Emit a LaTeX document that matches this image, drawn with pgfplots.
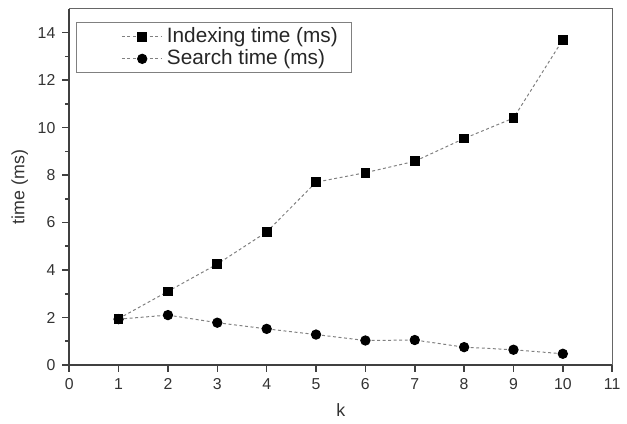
\documentclass[border=0pt]{standalone}
\usepackage{pgfplots}
\pgfplotsset{compat=1.18}
\usepackage{fontspec}
\setmainfont{Liberation Sans}
\begin{document}
\begin{tikzpicture}
\begin{axis}[
  scale only axis,
  width=274.5pt, height=180pt,
  xmin=0, xmax=11, ymin=0, ymax=15,
  xtick={0,1,...,11},
  ytick={0,2,...,14},
  minor y tick num=1,
  /pgf/number format/assume math mode=true,
  tick label style={font=\fontsize{8}{9}\selectfont, text=black!80},
  label style={font=\fontsize{9}{11}\selectfont, text=black!80},
  xlabel={k},
  ylabel={time (ms)},
  xlabel style={yshift=0pt},
  ylabel style={yshift=-2pt},
  axis x line*=bottom, axis y line*=left,
  axis line style={line width=1pt, black!75},
  tick align=outside,
  major tick length=3.5pt,
  minor tick length=2pt,
  tick style={line width=0.8pt, black!75},
  legend style={at={(rel axis cs:0.0128,0.962)}, anchor=north west,
    draw=black!50, line width=0.5pt,
    font=\fontsize{10.5}{11}\selectfont, text=black!85,
    inner xsep=5pt, inner ysep=0.5pt, row sep=-2pt,
    /tikz/every even column/.append style={column sep=0pt},
    cells={anchor=west}},
  legend image code/.code={%
    \path (-0.62cm,0cm) (0.72cm,0cm);
    \draw[mark repeat=2,mark phase=2] plot coordinates {(0cm,0cm) (0.36cm,0cm) (0.72cm,0cm)};},
  clip=false,
]
\draw[black!60, line width=0.6pt] (rel axis cs:0,1) -- (rel axis cs:1,1) -- (rel axis cs:1,0);
\addplot[dash pattern=on 1.5pt off 1.3pt, black!50, line width=0.5pt, mark=square*, mark size=2.2pt,
  mark options={solid, fill=black, draw=black}]
  coordinates {(1,1.95) (2,3.1) (3,4.25) (4,5.6) (5,7.7) (6,8.1) (7,8.58) (8,9.54) (9,10.4) (10,13.7)};
\addlegendentry{Indexing time (ms)}
\addplot[dash pattern=on 1.5pt off 1.3pt, black!50, line width=0.5pt, mark=*, mark size=2.35pt,
  mark options={solid, fill=black, draw=black}]
  coordinates {(1,1.93) (2,2.1) (3,1.78) (4,1.52) (5,1.28) (6,1.03) (7,1.05) (8,0.75) (9,0.64) (10,0.47)};
\addlegendentry{Search time (ms)}
\path (rel axis cs:0,0) ++(-35pt,-27.5pt) coordinate (bl);
\path (rel axis cs:1,1) ++(4pt,4.5pt) coordinate (tr);
\useasboundingbox (bl) rectangle (tr);
\end{axis}
\end{tikzpicture}
\end{document}
